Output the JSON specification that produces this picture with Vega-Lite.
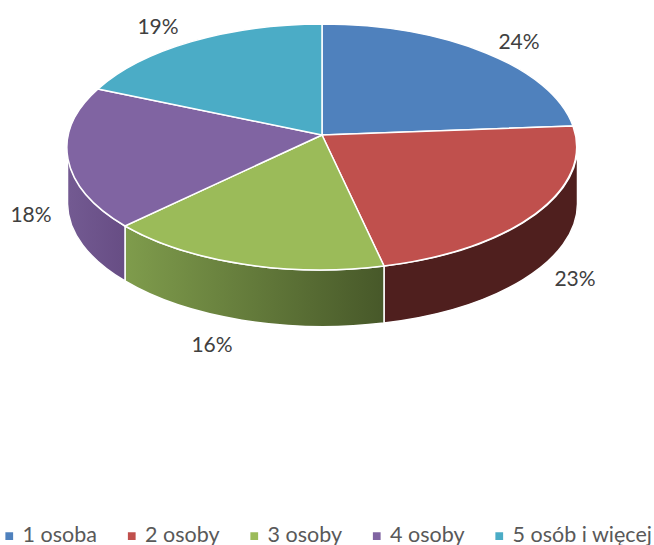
{
"$schema":"https://vega.github.io/schema/vega-lite/v6.json",
"width":654,"height":545,"padding":0,"autosize":{"type":"none"},
"background":"white",
"view":{"stroke":null},
"data":{"values":[
{"label":"1 osoba","value":0.24},
{"label":"2 osoby","value":0.23},
{"label":"3 osoby","value":0.16},
{"label":"4 osoby","value":0.18},
{"label":"5 osób i więcej","value":0.19}
]},
"layer":[
{"transform":[{"filter":"datum.label==='2 osoby'"}],
 "mark":{"type":"point","filled":true,"size":4,"opacity":1,"stroke":"white","strokeWidth":1.5,"fill":"#4f1f1e","shape":"M250.5,-125.5A255,123 0 0 1 57,-6.5L57,50.5A255,123 0 0 0 250.5,-68.5Z"},
 "encoding":{}},
{"transform":[{"filter":"datum.label==='3 osoby'"}],
 "mark":{"type":"point","filled":true,"size":4,"opacity":1,"stroke":"white","strokeWidth":1.5,"shape":"M57,-6.5A255,123 0 0 1 -202,-46.5L-202,8.5A255,123 0 0 0 57,50.5Z",
  "fill":{"gradient":"linear","x1":0,"y1":0,"x2":1,"y2":0,"stops":[{"offset":0,"color":"#7f9c4c"},{"offset":1,"color":"#475829"}]}},
 "encoding":{}},
{"transform":[{"filter":"datum.label==='4 osoby'"}],
 "mark":{"type":"point","filled":true,"size":4,"opacity":1,"stroke":"white","strokeWidth":1.5,"shape":"M-202,-46.5A255,123 0 0 1 -259.5,-125.5L-259.5,-68.5A255,123 0 0 0 -202,8.5Z",
  "fill":{"gradient":"linear","x1":0,"y1":0,"x2":1,"y2":0,"stops":[{"offset":0,"color":"#735a92"},{"offset":1,"color":"#674d84"}]}},
 "encoding":{}},
{"mark":{"type":"point","filled":true,"size":4,"opacity":1,"stroke":"white","strokeWidth":1.5},
 "encoding":{
  "fill":{"field":"label","type":"nominal","sort":null,
    "scale":{"domain":["1 osoba","2 osoby","3 osoby","4 osoby","5 osób i więcej"],"range":["#4f81bd","#c0504d","#9bbb59","#8064a2","#4bacc6"]},
    "legend":{"title":null,"orient":"none","legendX":-1.5,"legendY":525,"direction":"horizontal","columns":5,"symbolType":"square","symbolSize":60,"symbolStrokeWidth":0,"labelFont":"Lato","labelFontSize":21.5,"labelColor":"#595959","columnPadding":23.5,"labelOffset":2.5,"labelLimit":200,"padding":0}},
  "shape":{"field":"label","type":"nominal","legend":null,"scale":{"domain":["5 osób i więcej","4 osoby","3 osoby","2 osoby","1 osoba"],"range":[
    "M-5,-137.5L-229,-183.5A255,123 0 0 1 -5,-248.5Z",
    "M-5,-137.5L-202,-46.5A255,123 0 0 1 -229,-183.5Z",
    "M-5,-137.5L57,-6.5A255,123 0 0 1 -202,-46.5Z",
    "M-5,-137.5L246,-146.5A255,123 0 0 1 57,-6.5Z",
    "M-5,-137.5L-5,-248.5A255,123 0 0 1 246,-146.5Z"
  ]}}
 }},
{"transform":[{"filter":"datum.label==='1 osoba'"}],"mark":{"type":"text","font":"Lato","fontSize":21,"color":"#404040","dx":192,"dy":-230},"encoding":{"text":{"field":"value","type":"quantitative","format":".0%"}}},
{"transform":[{"filter":"datum.label==='2 osoby'"}],"mark":{"type":"text","font":"Lato","fontSize":21,"color":"#404040","dx":248,"dy":7},"encoding":{"text":{"field":"value","type":"quantitative","format":".0%"}}},
{"transform":[{"filter":"datum.label==='3 osoby'"}],"mark":{"type":"text","font":"Lato","fontSize":21,"color":"#404040","dx":-115,"dy":73},"encoding":{"text":{"field":"value","type":"quantitative","format":".0%"}}},
{"transform":[{"filter":"datum.label==='4 osoby'"}],"mark":{"type":"text","font":"Lato","fontSize":21,"color":"#404040","dx":-296,"dy":-57},"encoding":{"text":{"field":"value","type":"quantitative","format":".0%"}}},
{"transform":[{"filter":"datum.label==='5 osób i więcej'"}],"mark":{"type":"text","font":"Lato","fontSize":21,"color":"#404040","dx":-169,"dy":-245},"encoding":{"text":{"field":"value","type":"quantitative","format":".0%"}}}
]
}
